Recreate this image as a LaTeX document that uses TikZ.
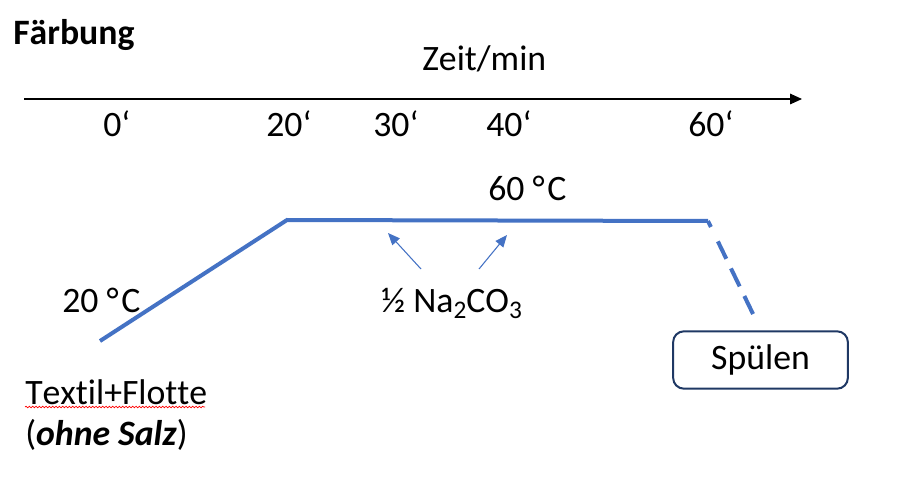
\documentclass[tikz,border=0pt]{standalone}
\usepackage{fontspec}
\setmainfont{Carlito}[Ligatures={NoCommon},Kerning=Off]
\usetikzlibrary{arrows.meta,positioning,decorations.pathmorphing}
\definecolor{BlueLine}{RGB}{68,114,196}
\definecolor{NavyBox}{RGB}{31,56,100}
\newcommand{\lowidx}[1]{\raisebox{-0.17em}{\fontsize{19}{20}\selectfont #1}}
\newcommand{\degC}{°\kern2pt C}

\begin{document}
\begin{tikzpicture}[x=0.75pt,y=0.75pt,yscale=-1,xscale=1,
  txt/.style={anchor=base west,inner sep=0pt,font=\fontsize{26.8}{30}\selectfont},
  bluepath/.style={color=BlueLine,line width=3pt},
  dosearrow/.style={color=BlueLine,line width=0.8pt,-{Triangle[length=9pt,width=7.5pt]}}]
\useasboundingbox (0,0) rectangle (900,481);

%Straight Lines (time axis)
\coordinate (axisL) at (24,99);
\coordinate (axisR) at (802,99);
\draw [line width=0.8pt,-{Triangle[length=9pt,width=8pt]}] (axisL) -- (axisR);

%Straight Lines (temperature profile)
\coordinate (start) at (100,341);
\coordinate (knee) at (287,220);
\coordinate (hold) at (708,221);
\coordinate (drain) at (754,316);
\draw [bluepath] (start) -- (knee) -- (hold);
\draw [bluepath,dash pattern={on 5pt off 12pt on 14.5pt off 8pt on 15pt off 8pt on 15pt off 8pt}] (hold) -- (drain);

% Text Node
\node [txt,font=\fontsize{26.8}{30}\selectfont\bfseries] (title) at (13,45) {Färbung};
% Text Node
\node [txt] (zeit) at (422,71) {Zeit/min};
% Text Node
\node [txt] (t0) at (103,137) {0‘};
\node [txt] (t20) at (266,137) {20‘};
\node [txt] (t30) at (373,137) {30‘};
\node [txt] (t40) at (486,137) {40‘};
\node [txt] (t60) at (688,137) {60‘};
% Text Node
\node [txt] (hot) at (488,200) {60 \degC};
% Text Node
\node [txt] (cold) at (62,312) {20 \degC};
% Text Node
\node [txt] (soda) at (381,312) {½ Na\lowidx{2}CO\lowidx{3}};
% Text Node
\node [txt] (textil) at (25,404) {Textil+Flotte};
\node [txt] (salz) at (25,445) {(\textbf{\textit{ohne Salz}})};
% Text Node
\node [draw=NavyBox,line width=1.5pt,rounded corners=8pt,minimum width=131pt,minimum height=43pt,
  font=\fontsize{26.8}{30}\selectfont,inner sep=0pt] (spuelen) at (760.5,360) {Spülen};

%Straight Lines (soda additions)
\coordinate (dose1) at (421,269);
\coordinate (dose2) at (479,269);
\coordinate (hit1) at (388,233);
\coordinate (hit2) at (507,235);
\draw [dosearrow] (dose1) -- (hit1);
\draw [dosearrow] (dose2) -- (hit2);

%spell check mark
\draw [red,line width=0.5pt,decorate,decoration={snake,amplitude=0.6pt,segment length=2.5pt}] (25,407) -- (205,407);

\end{tikzpicture}
\end{document}
